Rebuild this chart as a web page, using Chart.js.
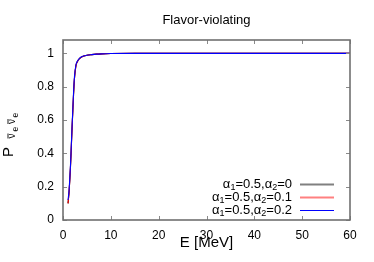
<!DOCTYPE html>
<html>
<head>
<meta charset="utf-8">
<script src="https://cdn.jsdelivr.net/npm/chart.js@4/dist/chart.umd.min.js"></script>
<style>
html,body{margin:0;padding:0;background:#fff;}
#wrap{width:374px;height:262px;}
</style>
</head>
<body>
<div id="wrap"><canvas id="c" width="374" height="262"></canvas></div>
<script>
// ---- data ----
const energy = [1.05, 1.25, 1.4, 1.55, 1.7, 1.85, 2.0, 2.2, 2.4, 2.7, 3.0, 3.5, 4.0, 5.0, 6.0, 7.0, 8.0, 10, 15, 20, 30, 40, 50, 60];
const pAlpha2_0  = [0.10, 0.16, 0.23, 0.31, 0.41, 0.52, 0.62, 0.75, 0.85, 0.925, 0.95, 0.97, 0.98, 0.988, 0.992, 0.995, 0.997, 0.999, 1, 1, 1, 1, 1, 1];
const pAlpha2_01 = [0.10, 0.16, 0.23, 0.31, 0.41, 0.52, 0.62, 0.75, 0.85, 0.925, 0.95, 0.97, 0.98, 0.988, 0.992, 0.995, 0.997, 0.999, 1, 1, 1, 1, 1, 1];
const pAlpha2_02 = [0.12, 0.17, 0.24, 0.32, 0.42, 0.53, 0.63, 0.76, 0.86, 0.93, 0.952, 0.971, 0.981, 0.988, 0.992, 0.995, 0.997, 0.999, 1, 1, 1, 1, 1, 1];
const seriesLabels = ['α₁=0.5,α₂=0', 'α₁=0.5,α₂=0.1', 'α₁=0.5,α₂=0.2'];
const xTicks = [0, 10, 20, 30, 40, 50, 60];
const yTicks = [0, 0.2, 0.4, 0.6, 0.8, 1];
const titleText = 'Flavor-violating';
const xTitle = 'E [MeV]';

const FONT = '"Liberation Sans", Arial, Helvetica, sans-serif';
const colors = ['#000000', '#ff0000', '#0000ff'];
const legendColors = ['#808080', '#ff8080', '#0000ff'];
const legendWidths = [2, 2, 1];
const seriesValues = [pAlpha2_0, pAlpha2_01, pAlpha2_02];

const datasets = seriesValues.map((vals, i) => ({
  label: seriesLabels[i],
  data: energy.map((e, k) => ({x: e, y: vals[k]})),
  borderColor: colors[i],
  borderWidth: 1.1,
  pointRadius: 0,
  fill: false,
  cubicInterpolationMode: 'monotone',
  order: 2 - i
}));

const subMap = {'₀':'0','₁':'1','₂':'2','₃':'3','₄':'4','₅':'5','₆':'6','₇':'7','₈':'8','₉':'9'};

function measureRich(ctx, text, size) {
  let w = 0;
  for (const ch of text) {
    if (subMap[ch]) { ctx.font = Math.round(size*0.7) + 'px ' + FONT; w += ctx.measureText(subMap[ch]).width; }
    else { ctx.font = size + 'px ' + FONT; w += ctx.measureText(ch).width; }
  }
  return w;
}
function drawRich(ctx, text, x, y, size) {
  let cx = x;
  ctx.textAlign = 'left';
  ctx.textBaseline = 'middle';
  for (const ch of text) {
    if (subMap[ch]) {
      ctx.font = Math.round(size*0.7) + 'px ' + FONT;
      ctx.fillText(subMap[ch], cx, y + 3);
      cx += ctx.measureText(subMap[ch]).width;
    } else {
      ctx.font = size + 'px ' + FONT;
      ctx.fillText(ch, cx, y);
      cx += ctx.measureText(ch).width;
    }
  }
}

const decor = {
  id: 'decor',
  afterDatasetsDraw(chart) {
    const ctx = chart.ctx;
    const a = chart.chartArea;
    const xs = chart.scales.x, ys = chart.scales.y;
    ctx.save();
    ctx.strokeStyle = '#8a8a8a';
    ctx.lineWidth = 1;
    ctx.beginPath();
    xTicks.forEach(v => {
      const px = Math.round(xs.getPixelForValue(v)) + 0.5;
      ctx.moveTo(px, a.bottom); ctx.lineTo(px, a.bottom - 4);
      ctx.moveTo(px, a.top); ctx.lineTo(px, a.top + 4);
    });
    yTicks.forEach(v => {
      const py = Math.round(ys.getPixelForValue(v)) + 0.5;
      ctx.moveTo(a.left, py); ctx.lineTo(a.left + 4, py);
      ctx.moveTo(a.right, py); ctx.lineTo(a.right - 4, py);
    });
    ctx.stroke();
    ctx.strokeStyle = '#707070';
    ctx.lineWidth = 1.6;
    ctx.strokeRect(a.left, a.top, a.right - a.left, a.bottom - a.top);
    ctx.restore();
  },
  afterDraw(chart) {
    const ctx = chart.ctx;
    const a = chart.chartArea;
    ctx.save();
    ctx.fillStyle = '#000';
    ctx.font = '13px ' + FONT;
    ctx.textAlign = 'center';
    ctx.textBaseline = 'alphabetic';
    ctx.fillText(titleText, (a.left + a.right) / 2, 24);
    ctx.font = '15px ' + FONT;
    ctx.fillText(xTitle, (a.left + a.right) / 2, 247);
    // y title: P with subscripts (nu-bar e nu-bar e), rotated
    ctx.save();
    ctx.rotate(-Math.PI / 2);
    ctx.textAlign = 'left';
    ctx.textBaseline = 'alphabetic';
    ctx.font = '15px ' + FONT;
    ctx.fillText('P', -157, 12.5);
    const nuPos = [-138.5, -124];
    const ePos = [-131.5, -117.5];
    ctx.lineWidth = 0.9;
    ctx.strokeStyle = '#000';
    nuPos.forEach(tx => {
      ctx.font = '10px ' + FONT;
      ctx.fillText('ν', tx, 14.5);
      const w = ctx.measureText('ν').width;
      ctx.beginPath();
      ctx.moveTo(tx, 8); ctx.lineTo(tx + w, 8);
      ctx.stroke();
    });
    ePos.forEach(tx => {
      ctx.font = '8.5px ' + FONT;
      ctx.fillText('e', tx, 17.5);
    });
    ctx.restore();
    // legend
    const rowY = [184.5, 197.5, 210.5];
    const textRight = 292;
    chart.data.datasets.forEach((ds, i) => {
      ctx.fillStyle = '#000';
      const w = measureRich(ctx, ds.label, 13);
      drawRich(ctx, ds.label, textRight - w, rowY[i], 13);
      ctx.strokeStyle = legendColors[i];
      ctx.lineWidth = legendWidths[i];
      ctx.beginPath();
      ctx.moveTo(300, rowY[i]); ctx.lineTo(334, rowY[i]);
      ctx.stroke();
    });
    ctx.restore();
  }
};

new Chart(document.getElementById('c'), {
  type: 'line',
  data: { datasets },
  plugins: [decor],
  options: {
    responsive: false,
    animation: false,
    devicePixelRatio: 1,
    layout: { padding: { top: 40, right: 24, left: 0, bottom: 0 } },
    plugins: { legend: { display: false }, title: { display: false }, tooltip: { enabled: false } },
    scales: {
      x: {
        type: 'linear', min: 0, max: 60,
        afterFit(s) { s.height = 42; },
        afterBuildTicks(s) { s.ticks = xTicks.map(v => ({value: v})); },
        grid: { display: false, drawTicks: false },
        border: { display: false },
        ticks: { padding: 8, color: '#000', font: { family: FONT, size: 12 }, maxRotation: 0, autoSkip: false }
      },
      y: {
        type: 'linear', min: 0, max: 1.08,
        afterFit(s) { s.width = 63; },
        afterBuildTicks(s) { s.ticks = yTicks.map(v => ({value: v})); },
        grid: { display: false, drawTicks: false },
        border: { display: false },
        ticks: { padding: 9, color: '#000', font: { family: FONT, size: 12 }, autoSkip: false,
          callback: v => String(Math.round(v * 10) / 10) }
      }
    }
  }
});
</script>
</body>
</html>
